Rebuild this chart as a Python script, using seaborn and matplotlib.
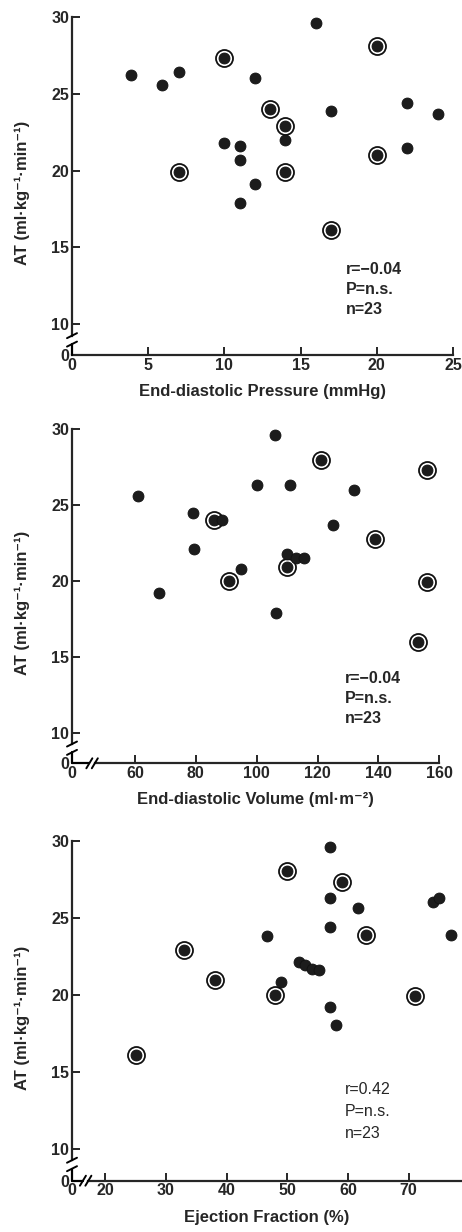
import numpy as np
import pandas as pd
import matplotlib
matplotlib.use("Agg")
import matplotlib.pyplot as plt
import seaborn as sns

# Panel 1: end-diastolic pressure vs AT
edp = [3.9, 5.9, 7.0, 10.0, 12.0, 16.0, 20.0, 13.0, 17.0, 22.0, 24.0, 14.0,
       14.0, 10.0, 11.0, 11.0, 7.0, 14.0, 20.0, 22.0, 12.0, 11.0, 17.0]
edp_at = [26.2, 25.6, 26.4, 27.3, 26.0, 29.6, 28.1, 24.0, 23.9, 24.4, 23.7, 22.9,
          22.0, 21.8, 21.6, 20.7, 19.9, 19.9, 21.0, 21.5, 19.1, 17.9, 16.1]
edp_ring = [0, 0, 0, 1, 0, 0, 1, 1, 0, 0, 0, 1, 0, 0, 0, 0, 1, 1, 1, 0, 0, 0, 1]

# Panel 2: end-diastolic volume vs AT
edv = [61, 79, 79.5, 68, 86, 88.5, 91, 95, 100, 106, 111, 121,
       132, 125, 139, 156, 156, 110, 110, 113, 115.5, 106.5, 153]
edv_at = [25.6, 24.5, 22.1, 19.2, 24.0, 24.0, 20.0, 20.8, 26.3, 29.65, 26.3, 28.0,
          26.0, 23.7, 22.75, 27.3, 19.9, 21.8, 20.9, 21.5, 21.5, 17.9, 16.0]
edv_ring = [0, 0, 0, 0, 1, 0, 1, 0, 0, 0, 0, 1, 0, 0, 1, 1, 1, 0, 1, 0, 0, 0, 1]

# Panel 3: ejection fraction vs AT
ef = [57, 50, 59, 57, 61.6, 74, 75, 77, 57, 63, 46.6, 33,
      38, 48, 49, 51.9, 52.9, 54.0, 55.2, 71, 57, 58, 25]
ef_at = [29.6, 28.0, 27.3, 26.3, 25.6, 26.0, 26.3, 23.9, 24.4, 23.9, 23.8, 22.9,
         20.95, 20.0, 20.8, 22.1, 21.9, 21.65, 21.6, 19.9, 19.2, 18.0, 16.1]
ef_ring = [0, 1, 1, 0, 0, 0, 0, 0, 0, 1, 0, 1, 1, 1, 0, 0, 0, 0, 0, 1, 0, 0, 1]

ylab = "AT (ml·kg⁻¹·min⁻¹)"

sns.set_style("ticks")
plt.rcParams['font.family'] = ['Liberation Sans', 'DejaVu Sans']
plt.rcParams['font.weight'] = 'bold'
plt.rcParams['axes.labelweight'] = 'bold'

fig = plt.figure(figsize=(4.62, 12.32), dpi=100)
W, H = 462.0, 1232.0


def make_axes(left, right, top, bottom):
    return fig.add_axes([left / W, 1 - bottom / H, (right - left) / W, (bottom - top) / H])


def draw_points(ax, x, y, ring):
    df = pd.DataFrame({"x": x, "y": y, "ring": ring})
    rings = df[df["ring"] == 1]
    sns.scatterplot(data=rings, x="x", y="y", ax=ax, s=150, color="white",
                    edgecolor="#111111", linewidth=1.3, zorder=3, legend=False)
    sns.scatterplot(data=df, x="x", y="y", ax=ax, s=62, color="#1c1c1c",
                    edgecolor="#111111", linewidth=0.6, zorder=4, legend=False)


def style_axes(ax, x0, y0, ybrk, xbrk=None):
    sns.despine(ax=ax)
    ax.spines['left'].set_linewidth(1.6)
    ax.spines['bottom'].set_linewidth(1.6)
    ax.tick_params(direction='in', length=6, width=1.4, labelsize=11.5, pad=2)
    ax.set_xlabel("")
    ax.set_ylabel("")
    # y-axis break between 0 and 10
    ax.spines['left'].set_bounds(ybrk[1], 30)
    ax.plot([x0, x0], [y0, ybrk[0]], color='k', lw=1.6, clip_on=False, zorder=5)
    fx = ax.transAxes.inverted()
    for yb in ybrk:
        px, py = ax.transData.transform((x0, yb))
        a = fx.transform((px - 5, py - 2.5))
        b = fx.transform((px + 5, py + 2.5))
        ax.plot([a[0], b[0]], [a[1], b[1]], transform=ax.transAxes, color='k',
                lw=1.4, clip_on=False, zorder=5)
    if xbrk is not None:
        ax.spines['bottom'].set_bounds(xbrk[1], ax.get_xlim()[1])
        ax.plot([x0, xbrk[0]], [y0, y0], color='k', lw=1.6, clip_on=False, zorder=5)
        for xb in xbrk:
            px, py = ax.transData.transform((xb, y0))
            a = fx.transform((px - 3, py - 5))
            b = fx.transform((px + 3, py + 5))
            ax.plot([a[0], b[0]], [a[1], b[1]], transform=ax.transAxes, color='k',
                    lw=1.4, clip_on=False, zorder=5)
    ax.set_ylabel(ylab, fontsize=12, fontweight='bold')
    width_px = ax.get_position().width * W
    ax.yaxis.set_label_coords((30 - 72) / width_px, 0.48)


# ---- panel 1 ----
ax1 = make_axes(72, 453, 17, 355)
draw_points(ax1, edp, edp_at, edp_ring)
ax1.set_xlim(0, 25)
ax1.set_ylim(7.99, 30)
ax1.set_xticks([0, 5, 10, 15, 20, 25])
ax1.set_yticks([7.99, 10, 15, 20, 25, 30])
ax1.set_yticklabels(['0', '10', '15', '20', '25', '30'])
style_axes(ax1, 0, 7.99, (8.7, 9.25))
ax1.set_xlabel("End-diastolic Pressure (mmHg)", fontsize=12, labelpad=8)
ax1.text(0.72, 0.275, "r=−0.04\nP=n.s.\nn=23", transform=ax1.transAxes,
         fontsize=11.5, va='top', ha='left', linespacing=1.4)

# ---- panel 2 ----
ax2 = make_axes(72, 439.3, 429.3, 763.3)
draw_points(ax2, edv, edv_at, edv_ring)
ax2.set_xlim(39.3, 160)
ax2.set_ylim(7.98, 30)
ax2.set_xticks([39.3, 60, 80, 100, 120, 140, 160])
ax2.set_xticklabels(['0', '60', '80', '100', '120', '140', '160'])
ax2.set_yticks([7.98, 10, 15, 20, 25, 30])
ax2.set_yticklabels(['0', '10', '15', '20', '25', '30'])
style_axes(ax2, 39.3, 7.98, (8.7, 9.25), (45.0, 46.8))
ax2.set_xlabel("End-diastolic Volume (ml·m⁻²)", fontsize=12, labelpad=8)
ax2.text(0.744, 0.275, "r=−0.04\nP=n.s.\nn=23", transform=ax2.transAxes,
         fontsize=11.5, va='top', ha='left', linespacing=1.4)

# ---- panel 3 ----
ax3 = make_axes(72, 462, 840.7, 1180.7)
draw_points(ax3, ef, ef_at, ef_ring)
ax3.set_xlim(14.5, 78.8)
ax3.set_ylim(7.92, 30)
ax3.set_xticks([14.5, 20, 30, 40, 50, 60, 70])
ax3.set_xticklabels(['0', '20', '30', '40', '50', '60', '70'])
ax3.set_yticks([7.92, 10, 15, 20, 25, 30])
ax3.set_yticklabels(['0', '10', '15', '20', '25', '30'])
style_axes(ax3, 14.5, 7.92, (8.7, 9.25), (16.3, 17.2))
ax3.set_xlabel("Ejection Fraction (%)", fontsize=12, labelpad=8)
ax3.text(0.70, 0.29, "r=0.42\nP=n.s.\nn=23", transform=ax3.transAxes,
         fontsize=11.5, va='top', ha='left', linespacing=1.6, fontweight='normal')

fig.savefig("out.png", dpi=100)
